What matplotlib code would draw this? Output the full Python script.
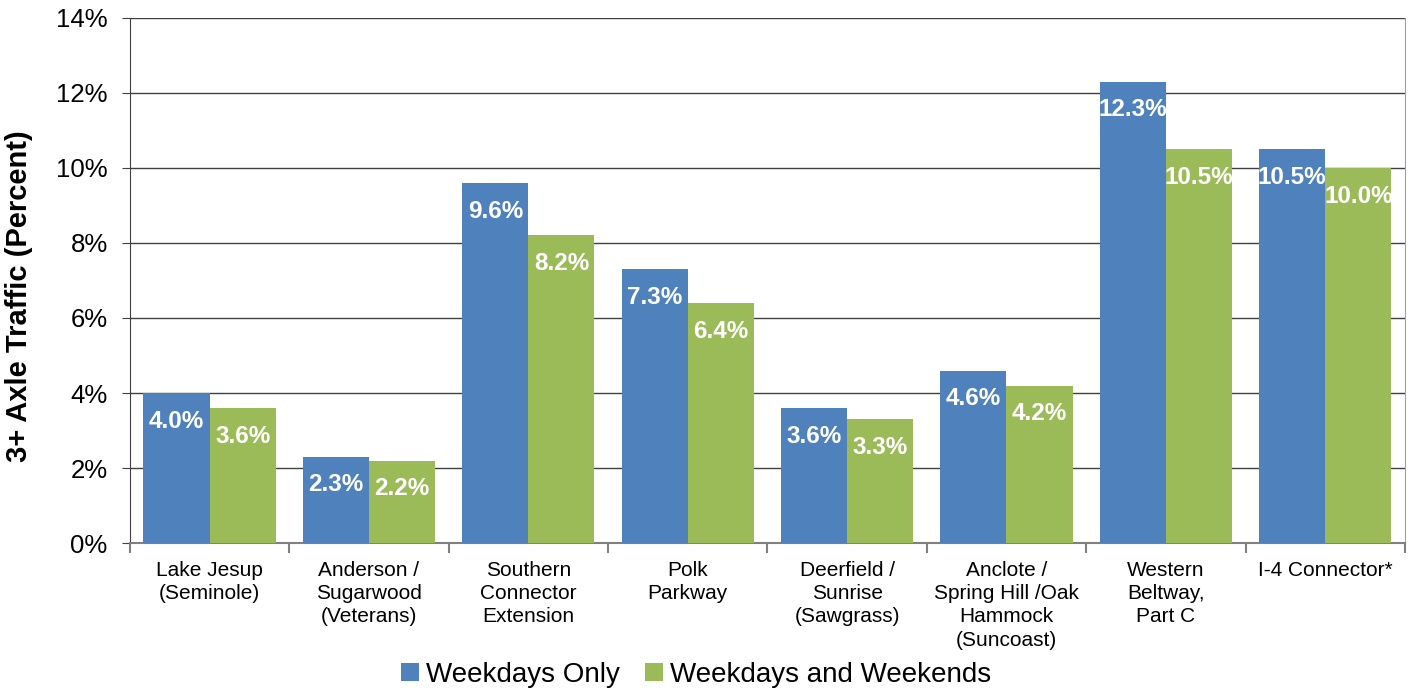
import numpy as np
from matplotlib import pyplot as plt
from matplotlib.ticker import FuncFormatter

plt.rcParams['font.family'] = ['Liberation Sans', 'DejaVu Sans']

# dane
kategorie = ["Lake Jesup\n(Seminole)", "Anderson /\nSugarwood\n(Veterans)",
             "Southern\nConnector\nExtension", "Polk\nParkway",
             "Deerfield /\nSunrise\n(Sawgrass)", "Anclote /\nSpring Hill /Oak\nHammock\n(Suncoast)",
             "Western\nBeltway,\nPart C", "I-4 Connector*"]
dni_robocze = [4.0, 2.3, 9.6, 7.3, 3.6, 4.6, 12.3, 10.5]
caly_tydzien = [3.6, 2.2, 8.2, 6.4, 3.3, 4.2, 10.5, 10.0]
y_ticks = [0, 2, 4, 6, 8, 10, 12, 14]

niebieski = "#4F81BD"
zielony = "#9BBB59"

fig = plt.figure(figsize=(14.12, 6.9), dpi=100)
ax = fig.add_axes([0.092, 0.213, 0.903, 0.761])

x = np.arange(len(kategorie))
w = 0.415
b1 = ax.bar(x - w / 2, dni_robocze, w, color=niebieski, label="Weekdays Only", zorder=3)
b2 = ax.bar(x + w / 2, caly_tydzien, w, color=zielony, label="Weekdays and Weekends", zorder=3)

# etykiety wartosci wewnatrz slupkow
for slupki, wartosci in [(b1, dni_robocze), (b2, caly_tydzien)]:
    for s, v in zip(slupki, wartosci):
        ax.annotate("%.1f%%" % v, (s.get_x() + s.get_width() / 2, v),
                    xytext=(0, -12), textcoords="offset points",
                    ha="center", va="top", color="white",
                    fontsize=17.5, fontweight="bold", zorder=4)

ax.set_xlim(-0.5, len(kategorie) - 0.5)
ax.set_ylim(0, 14)
ax.set_yticks(y_ticks)
ax.yaxis.set_major_formatter(FuncFormatter(lambda v, p: "%d%%" % v))
ax.tick_params(axis="y", labelsize=18.5, length=6, color="#404040", direction="out", pad=10)
ax.yaxis.grid(True, color="#404040", linewidth=1, zorder=0)

ax.set_xticks(x)
ax.set_xticklabels(kategorie, fontsize=15, va="top", linespacing=1.28)
ax.set_xticks(np.arange(len(kategorie) + 1) - 0.5, minor=True)
ax.tick_params(axis="x", which="major", length=0, pad=13)
ax.tick_params(axis="x", which="minor", length=7, color="#808080", width=1.5)

ax.spines["top"].set_visible(False)
ax.spines["left"].set_color("#404040")
ax.spines["bottom"].set_color("#808080")
ax.spines["bottom"].set_linewidth(1.5)
ax.spines["right"].set_color("#a0a0a0")

ax.set_ylabel("3+ Axle Traffic (Percent)", fontsize=21, fontweight="bold")
ax.yaxis.set_label_coords(-0.076, 0.47)

fig.legend(loc="lower center", bbox_to_anchor=(0.493, -0.033), ncol=2, frameon=False,
           fontsize=20, handlelength=0.65, handleheight=0.65, handletextpad=0.25,
           columnspacing=0.9)

fig.savefig("out.png", dpi=100)
